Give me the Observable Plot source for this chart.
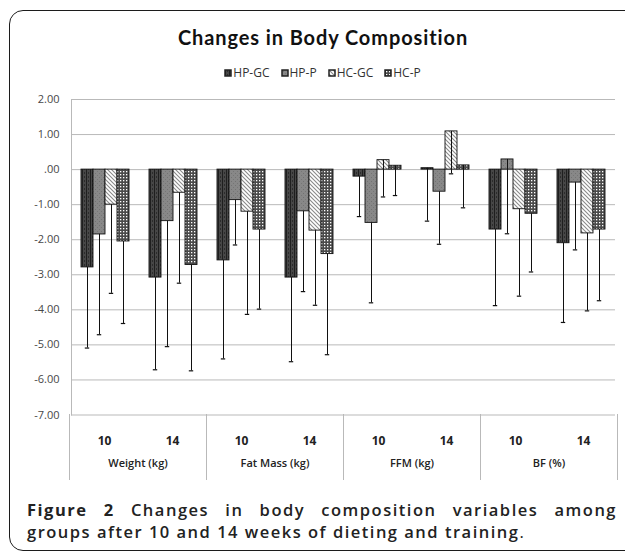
<!DOCTYPE html>
<html><head><meta charset="utf-8">
<script src="https://cdn.jsdelivr.net/npm/d3@7"></script>
<script src="https://cdn.jsdelivr.net/npm/@observablehq/plot@0.6"></script>
<style>
html,body{margin:0;padding:0;background:#fff;}
#root{position:relative;width:625px;height:552px;overflow:hidden;background:#fff;font-family:'Open Sans',sans-serif;}
#frame{position:absolute;left:9px;top:10px;width:650px;height:541px;box-sizing:border-box;border:1.5px solid #1c1c1c;border-radius:14px;}
#title{position:absolute;left:0;width:646px;top:25px;text-align:center;font:700 20px Lato,sans-serif;letter-spacing:0.9px;line-height:24px;color:#111;}
#legend{position:absolute;left:0;width:646px;top:64px;display:flex;justify-content:center;}
#legend .lg-swatches{font:12px 'Open Sans',sans-serif;color:#333;min-height:0;margin:0;}
#legend .lg-swatch{margin-right:12px;}
#legend .lg-swatch:last-child{margin-right:0;}
#legend .lg-swatch > svg{margin-right:2px;}
#legend .lg-swatch rect{stroke:#222;stroke-width:1.5px;}
#main{position:absolute;left:0;top:80px;}
#table{position:absolute;left:0;top:414px;}
#caption{position:absolute;left:27px;top:499px;width:590px;font:600 16.5px 'Open Sans',sans-serif;letter-spacing:1.5px;color:#222;line-height:22px;}
#caption .l1{text-align:justify;text-align-last:justify;}
#caption b{font-weight:700;}
</style>
</head><body>
<div id="root">
  <div id="frame"></div>
  <div id="title">Changes in Body Composition</div>
  <div id="legend"></div>
  <div id="main"></div>
  <div id="table"></div>
  <div id="caption"><div class="l1"><b>Figure 2</b> Changes in body composition variables among</div><div>groups after 10 and 14 weeks of dieting and training<span style="font-weight:400">.</span></div></div>
  <svg width="0" height="0" style="position:absolute">
    <defs>
      <pattern id="p-hpgc" patternUnits="userSpaceOnUse" width="4" height="4">
        <rect width="4" height="4" fill="#474747"/>
        <rect x="0" width="1" height="4" fill="#1f1f1f"/>
        <rect x="2" y="0" width="1" height="2" fill="#2c2c2c"/>
      </pattern>
      <pattern id="p-hpp" patternUnits="userSpaceOnUse" width="4" height="4">
        <rect width="4" height="4" fill="#888"/>
        <rect x="1" y="1" width="1" height="1" fill="#727272"/>
        <rect x="3" y="3" width="1" height="1" fill="#767676"/>
      </pattern>
      <pattern id="p-hcgc" patternUnits="userSpaceOnUse" width="4" height="4">
        <rect width="4" height="4" fill="#fff"/>
        <path d="M0,0L4,4M-1,3L1,5M3,-1L5,1" stroke="#8a8a8a" stroke-width="1.1"/>
      </pattern>
      <pattern id="p-hcp" patternUnits="userSpaceOnUse" width="3" height="3">
        <rect width="3" height="3" fill="#4a4a4a"/>
        <rect x="1" y="1" width="1.3" height="1.3" fill="#fff"/>
      </pattern>
    </defs>
  </svg>
</div>
<script>
// ---- data ----
const categories = ["Weight (kg)", "Fat Mass (kg)", "FFM (kg)", "BF (%)"];
const weeks = ["10", "14"];
const groups = ["HP-GC", "HP-P", "HC-GC", "HC-P"];
// mean change, order: Weight10, Weight14, FatMass10, FatMass14, FFM10, FFM14, BF10, BF14
const hpgcMean = [-2.79, -3.08, -2.59, -3.08, -0.20, 0.04, -1.71, -2.10];
const hppMean  = [-1.85, -1.47, -0.87, -1.19, -1.52, -0.63, 0.29, -0.37];
const hcgcMean = [-1.00, -0.66, -1.20, -1.74, 0.27, 1.09, -1.13, -1.82];
const hcpMean  = [-2.05, -2.72, -1.71, -2.41, 0.11, 0.12, -1.26, -1.71];
// standard deviations (error bars drawn downward)
const hpgcSD = [2.30, 2.63, 2.81, 2.40, 1.14, 1.51, 2.17, 2.26];
const hppSD  = [2.86, 3.58, 1.28, 2.29, 2.28, 1.50, 2.12, 1.92];
const hcgcSD = [2.53, 2.58, 2.93, 2.13, 1.05, 1.21, 2.48, 2.21];
const hcpSD  = [2.34, 3.02, 2.27, 2.87, 0.85, 1.21, 1.66, 2.03];
const yTicks = [2, 1, 0, -1, -2, -3, -4, -5, -6, -7];
const yTickLabels = ["2.00", "1.00", ".00", "-1.00", "-2.00", "-3.00", "-4.00", "-5.00", "-6.00", "-7.00"];
const groupFills = ["url(#p-hpgc)", "url(#p-hpp)", "url(#p-hcgc)", "url(#p-hcp)"];

const means = [hpgcMean, hppMean, hcgcMean, hcpMean];
const sds = [hpgcSD, hppSD, hcgcSD, hcpSD];
const keys = [];
const rows = [];
const weekCells = [];
categories.forEach((c, ci) => weeks.forEach((w, wi) => {
  const k = ci * 2 + wi;
  const key = c + "|" + w;
  keys.push(key);
  weekCells.push({cat: c, week: w});
  groups.forEach((g, gi) => rows.push({key, cat: c, week: w, group: g, value: means[gi][k], sd: sds[gi][k]}));
}));

const grid = "#b9b9b9";
const main = Plot.plot({
  width: 625, height: 336,
  marginLeft: 69, marginRight: 8, marginTop: 19, marginBottom: 1.5,
  style: {fontFamily: "'Open Sans', sans-serif", background: "transparent", overflow: "visible"},
  fx: {domain: keys, paddingInner: 0, paddingOuter: 0, axis: null},
  x: {domain: groups, paddingInner: 0, paddingOuter: 0.72, axis: null},
  y: {domain: [-7, 2], axis: null},
  color: {domain: groups, range: groupFills},
  marks: [
    Plot.ruleY(yTicks, {stroke: grid, strokeWidth: 1}),
    Plot.frame({anchor: "left", stroke: grid, fx: () => keys[0]}),
    Plot.axisY(yTicks, {tickSize: 0, tickPadding: 12, fontSize: 11, fill: "#474747", label: null,
      tickFormat: d => yTickLabels[yTicks.indexOf(d)]}),
    Plot.barY(rows, {fx: "key", x: "group", y: "value", fill: "group", stroke: "#111", strokeWidth: 0.9}),
    Plot.ruleX(rows, {fx: "key", x: "group", y1: "value", y2: d => d.value - d.sd, stroke: "#111", strokeWidth: 1}),
    Plot.tickY(rows, {fx: "key", x: "group", y: d => d.value - d.sd, insetLeft: 3.8, insetRight: 3.8, stroke: "#111", strokeWidth: 1.2})
  ]
});
document.getElementById("main").appendChild(main);

const legend = main.legend("color", {className: "lg", swatchSize: 6});
document.getElementById("legend").appendChild(legend);

const table = Plot.plot({
  width: 625, height: 66,
  marginLeft: 69, marginRight: 8, marginTop: 0, marginBottom: 0,
  style: {fontFamily: "'Open Sans', sans-serif", background: "transparent"},
  fx: {domain: categories, paddingInner: 0, paddingOuter: 0, axis: null},
  x: {domain: weeks, paddingInner: 0, paddingOuter: 0, axis: null},
  marks: [
    Plot.frame({anchor: "left", stroke: grid}),
    Plot.frame({anchor: "right", stroke: grid}),
    Plot.text(weekCells, {fx: "cat", x: "week", text: "week", frameAnchor: "top", dy: 22, fontSize: 12, fontWeight: 700, fill: "#222"}),
    Plot.text(categories, {fx: d => d, text: d => d, frameAnchor: "bottom", dy: -14, fontSize: 11, fontWeight: 600, fill: "#222"})
  ]
});
document.getElementById("table").appendChild(table);
</script>
</body></html>
